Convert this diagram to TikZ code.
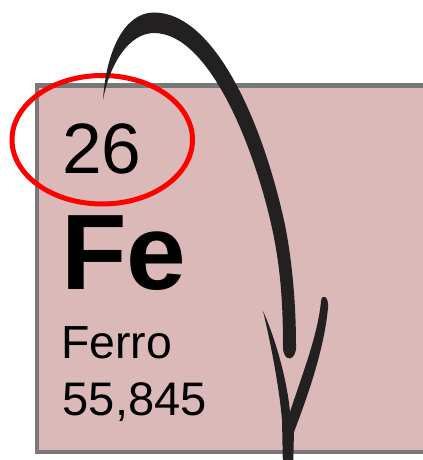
\documentclass[tikz,border=0pt]{standalone}
\usepackage{fontspec}
\setmainfont{Liberation Sans}
\definecolor{boxpink}{HTML}{DCB9B9}
\definecolor{boxgray}{HTML}{787878}
\definecolor{ink}{HTML}{222020}
\definecolor{mark}{HTML}{FF0000}
\tikzset{
  eltext/.style={anchor=base west, inner sep=0pt, text=black},
  elbox/.style={draw=boxgray, line width=3pt, fill=boxpink},
  ring/.style={draw=mark, line width=3.75pt},
  brush/.style={fill=ink, draw=none}
}
\begin{document}
\begin{tikzpicture}[x=0.75pt,y=-0.75pt]
\useasboundingbox (0,0) rectangle (423,460);
\clip (0,0) rectangle (423,460);
\fill[white] (0,0) rectangle (423,460);
% element box
\draw[elbox] (37,85.5) rectangle (445,451.5);
% texts
\node[eltext, font=\fontsize{53.5}{60}\selectfont] (num) at (62,173) {26};
\node[eltext, font=\fontsize{80.5}{90}\selectfont\bfseries] (sym) at (61,289) {Fe};
\node[eltext, font=\fontsize{34.8}{40}\selectfont] (name) at (61,358) {Ferro};
\node[eltext, font=\fontsize{35.3}{40}\selectfont] (mass) at (62.5,415) {55,845};
% red ring
\draw[ring] (102.25,139.75) ellipse [x radius=90.25, y radius=64.25];
% brush arrow shaft
\coordinate (tail) at (103,100);
\coordinate (apex) at (154,12.5);
\coordinate (apexin) at (154,33);
\fill[brush] (tail)
  .. controls (106,52) and (124,12.5) .. (apex)
  .. controls (213,12.5) and (262,118) .. (285,225)
  .. controls (293,265) and (296,310) .. (296,345)
  .. controls (297,362) and (283,363) .. (283,347)
  .. controls (283,300) and (280,265) .. (272,228)
  .. controls (255,150) and (210,33) .. (apexin)
  .. controls (130,33) and (110,62) .. (tail) -- cycle;
% brush arrow head
\coordinate (tipL) at (263,311);
\coordinate (crotch) at (290,412);
\fill[brush] (tipL)
  .. controls (270,340) and (279,385) .. (282,420)
  -- (283,470) -- (293,470) -- (294,432)
  .. controls (308,395) and (324,350) .. (328,308)
  .. controls (329,296) and (322,293) .. (321,301)
  .. controls (318,335) and (302,375) .. (crotch)
  .. controls (287,380) and (276,340) .. (tipL) -- cycle;
\end{tikzpicture}
\end{document}
